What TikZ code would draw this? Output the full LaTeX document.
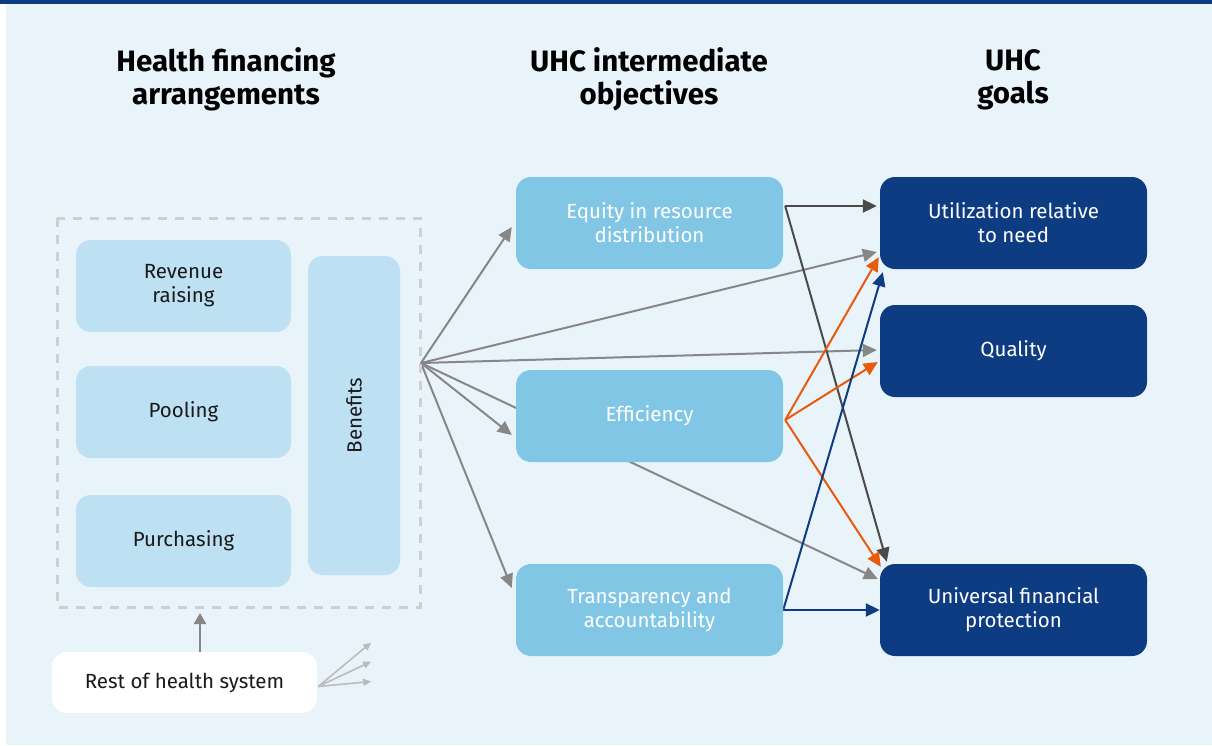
\documentclass[tikz,border=0pt]{standalone}
\usepackage{fontspec}
\setmainfont{Fira Sans}
\usetikzlibrary{arrows.meta,calc}
\definecolor{bgc}{HTML}{E9F3FA}
\definecolor{topbar}{HTML}{0E3C83}
\definecolor{lightbox}{HTML}{BDE0F2}
\definecolor{midbox}{HTML}{82C6E6}
\definecolor{darkbox}{HTML}{0E3C83}
\definecolor{garr}{HTML}{878787}
\definecolor{dgarr}{HTML}{4A4A4A}
\definecolor{orarr}{HTML}{E85B0C}
\definecolor{dashc}{HTML}{CFCFCF}
\definecolor{smallarr}{HTML}{BBBBBB}
\definecolor{txt}{HTML}{1A1A1A}
\pgfdeclarelayer{back0}
\pgfdeclarelayer{back1}
\pgfsetlayers{back0,back1,main}
\tikzset{
  boxbase/.style={rounded corners=15pt, align=center, inner sep=0pt, font=\fontsize{20.5}{24}\selectfont},
  lbox/.style={boxbase, fill=lightbox, text=txt, minimum width=215pt, minimum height=92pt},
  mbox/.style={boxbase, fill=midbox, text=white, minimum width=267pt, minimum height=92pt},
  dbox/.style={boxbase, fill=darkbox, text=white, minimum width=267pt, minimum height=92pt},
  title/.style={align=center, font=\bfseries\fontsize{29.5}{33}\selectfont, text=black},
  arr/.style={line width=2pt, -{Triangle[length=14pt,width=13pt]}},
  garrow/.style={arr, draw=garr},
  dgarrow/.style={arr, draw=dgarr},
  oarrow/.style={arr, draw=orarr},
  barrow/.style={arr, draw=darkbox},
  sarrow/.style={line width=1.6pt, draw=smallarr, -{Triangle[length=8pt,width=7pt]}},
}
\begin{document}
\begin{tikzpicture}[x=1pt,y=-1pt]
\useasboundingbox (0,0) rectangle (1212,745);
\begin{pgfonlayer}{back0}
\fill[white] (0,0) rectangle (1212,745);
\fill[bgc] (6,4) rectangle (1212,745);
\fill[topbar] (0,0) rectangle (1212,4);
\end{pgfonlayer}

% titles
\node[title] (t1) at (226,79.5) {Health financing\\arrangements};
\node[title] (t2) at (649,79.5) {UHC intermediate\\objectives};
\node[title] (t3) at (1013,79.5) {UHC\\goals};

% dashed frame
\draw[dashc, line width=3pt, dash pattern=on 9pt off 8pt] (57,218) rectangle (420,607);
\coordinate (frameb) at (200,613);

% left boxes
\node[lbox] (rev) at (183.5,286) {Revenue\\raising};
\node[lbox, minimum height=92pt] (pool) at (183.5,412) {Pooling};
\node[lbox] (purch) at (183.5,541) {Purchasing};
\node[boxbase, fill=lightbox, text=txt, minimum width=319pt, minimum height=92pt, rotate=90] (ben) at (354,415.5) {Benefits};

% rest of health system
\node[boxbase, fill=white, text=txt, minimum width=265pt, minimum height=61pt] (rest) at (184.5,682.5) {Rest of health system};

% middle boxes
\node[mbox] (eq) at (649.5,223) {Equity in resource\\distribution};
\node[mbox] (eff) at (649.5,416) {Efficiency};
\node[mbox] (tr) at (649.5,610) {Transparency and\\accountability};

% right boxes
\node[dbox] (util) at (1013.5,223) {Utilization relative\\to need};
\node[dbox] (qual) at (1013.5,351) {Quality};
\node[dbox] (ufp) at (1013.5,610) {Universal financial\\protection};

\coordinate (hub) at (421,363);

\begin{pgfonlayer}{back1}
% hub arrows
\draw[garrow] (hub) -- ($(eq.west)+(-4,4)$);
\draw[garrow] (hub) -- ($(util.west)+(-3,29)$);
\draw[garrow] (hub) -- ($(qual.west)+(-3,-1)$);
\draw[garrow] (hub) -- ($(eff.west)+(-4,19)$);
\draw[garrow] (hub) -- ($(ufp.west)+(-2,-31)$);
\draw[garrow] (hub) -- ($(tr.west)+(-4,-22)$);
% equity
\draw[dgarrow] ($(eq.east)+(2,-17)$) -- ($(util.west)+(-3,-17)$);
\draw[dgarrow] ($(eq.east)+(2,-17)$) -- ($(ufp.north west)+(7,-2)$);
% efficiency
\draw[oarrow] ($(eff.east)+(2,4)$) -- ($(util.south west)+(-1,-12)$);
\draw[oarrow] ($(eff.east)+(2,4)$) -- ($(qual.west)+(-2,11)$);
\draw[oarrow] ($(eff.east)+(2,4)$) -- ($(ufp.north west)+(1,3)$);
% transparency
\draw[barrow] (tr.east) -- (ufp.west);
\draw[barrow] (tr.east) -- ($(util.south west)+(3,3)$);
% rest of health system
\draw[arr, draw=garr, line width=2.5pt, -{Triangle[length=11pt,width=12pt]}] (rest.north -| frameb) -- (frameb);
\draw[sarrow] ($(rest.east)+(1,4)$) -- ($(rest.east)+(54,-40)$);
\draw[sarrow] ($(rest.east)+(1,4)$) -- ($(rest.east)+(54,-21)$);
\draw[sarrow] ($(rest.east)+(1,4)$) -- ($(rest.east)+(54,-1)$);
\end{pgfonlayer}
\end{tikzpicture}
\end{document}
